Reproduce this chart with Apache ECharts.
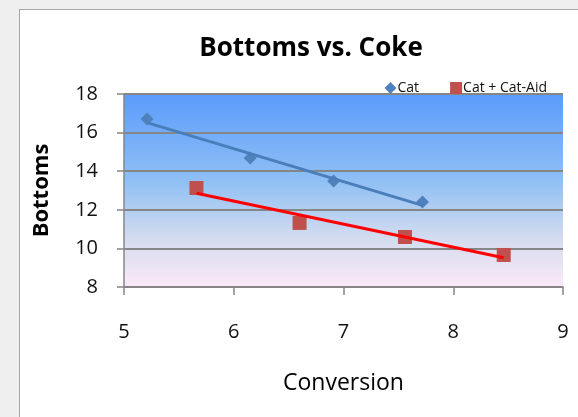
<!DOCTYPE html>
<html>
<head>
<meta charset="utf-8">
<script src="https://cdn.jsdelivr.net/npm/echarts@6/dist/echarts.min.js"></script>
<style>
  html, body { margin: 0; padding: 0; background: #efefef; }
  #frame { position: absolute; left: 19px; top: 9px; width: 570px; height: 420px;
           background: #ffffff; border: 1px solid #a6a6a6; box-sizing: border-box; }
  #chart { position: absolute; left: 0; top: 0; width: 578px; height: 417px; }
</style>
</head>
<body>
<div id="frame"></div>
<div id="chart"></div>
<script>
// Conversion (x) vs. Bottoms (y) for the two catalyst runs
const catX = [5.21, 6.15, 6.91, 7.72];
const catY = [16.7, 14.68, 13.49, 12.4];
const aidX = [5.66, 6.6, 7.56, 8.46];
const aidY = [13.13, 11.32, 10.59, 9.66];
const xTicks = [5, 6, 7, 8, 9];
const yTicks = [8, 10, 12, 14, 16, 18];

function pairs(xs, ys) { return xs.map((x, i) => [x, ys[i]]); }

// Least-squares linear trendline spanning the series' own x range
function trend(xs, ys) {
  const n = xs.length;
  const mx = xs.reduce((a, b) => a + b, 0) / n;
  const my = ys.reduce((a, b) => a + b, 0) / n;
  let sxy = 0, sxx = 0;
  xs.forEach((x, i) => { sxy += (x - mx) * (ys[i] - my); sxx += (x - mx) * (x - mx); });
  const k = sxy / sxx, b = my - k * mx;
  const x0 = Math.min(...xs), x1 = Math.max(...xs);
  return [[x0, k * x0 + b], [x1, k * x1 + b]];
}

const font = '"Open Sans", Lato, sans-serif';
const chart = echarts.init(document.getElementById('chart'), null, { renderer: 'canvas' });

chart.setOption({
  animation: false,
  backgroundColor: 'transparent',
  title: {
    text: 'Bottoms vs. Coke',
    left: 306, top: 31, textAlign: 'center',
    textStyle: { fontFamily: font, fontWeight: 'bold', fontSize: 26, color: '#000' }
  },
  legend: {
    right: 26, top: 76,
    itemWidth: 12, itemHeight: 12, itemGap: 31,
    textStyle: { fontFamily: font, fontSize: 14, color: '#111', padding: [0, 0, 0, -4] },
    data: [
      { name: 'Cat', icon: 'diamond' },
      { name: 'Cat + Cat-Aid', icon: 'rect' }
    ]
  },
  grid: {
    left: 124, right: 15, top: 94, bottom: 130,
    show: true, borderWidth: 0,
    backgroundColor: {
      type: 'linear', x: 0, y: 0, x2: 0, y2: 1,
      colorStops: [
        { offset: 0, color: '#5b9bfc' },
        { offset: 0.45, color: '#8fc0f4' },
        { offset: 0.75, color: '#d4dcef' },
        { offset: 1, color: '#fbe9f8' }
      ]
    }
  },
  xAxis: {
    type: 'value', min: xTicks[0], max: xTicks[xTicks.length - 1], interval: 1,
    name: 'Conversion', nameLocation: 'middle', nameGap: 85,
    nameTextStyle: { fontFamily: font, fontSize: 23, color: '#000' },
    axisLine: { show: true, lineStyle: { color: '#868686', width: 1.5 } },
    axisTick: { show: true, inside: false, length: 8, lineStyle: { color: '#868686', width: 1.5 } },
    axisLabel: { margin: 35, fontFamily: font, fontSize: 20, color: '#111' },
    splitLine: { show: false }
  },
  yAxis: {
    type: 'value', min: yTicks[0], max: yTicks[yTicks.length - 1], interval: 2,
    name: 'Bottoms', nameLocation: 'middle', nameGap: 71, nameRotate: 90,
    nameTextStyle: { fontFamily: font, fontWeight: 'bold', fontSize: 22, color: '#000' },
    axisLine: { show: true, lineStyle: { color: '#868686', width: 1.5 } },
    axisTick: { show: true, inside: false, length: 7, lineStyle: { color: '#868686', width: 1.5 } },
    axisLabel: { margin: 26, fontFamily: font, fontSize: 20, color: '#111' },
    splitLine: { show: true, lineStyle: { color: '#868686', width: 1.8 } }
  },
  series: [
    {
      name: 'Cat', type: 'scatter', symbol: 'diamond', symbolSize: 13,
      itemStyle: { color: '#4f81bd', opacity: 1 },
      data: pairs(catX, catY), z: 2
    },
    {
      name: 'Cat + Cat-Aid', type: 'scatter', symbol: 'rect', symbolSize: 14,
      itemStyle: { color: '#c0504d', opacity: 1 },
      data: pairs(aidX, aidY), z: 2
    },
    {
      name: 'Cat trend', type: 'line', data: trend(catX, catY),
      showSymbol: false, silent: true, z: 3,
      lineStyle: { color: '#4a7ebb', width: 3 }
    },
    {
      name: 'Cat + Cat-Aid trend', type: 'line', data: trend(aidX, aidY),
      showSymbol: false, silent: true, z: 3,
      lineStyle: { color: '#ff0000', width: 3 }
    }
  ]
});
</script>
</body>
</html>
